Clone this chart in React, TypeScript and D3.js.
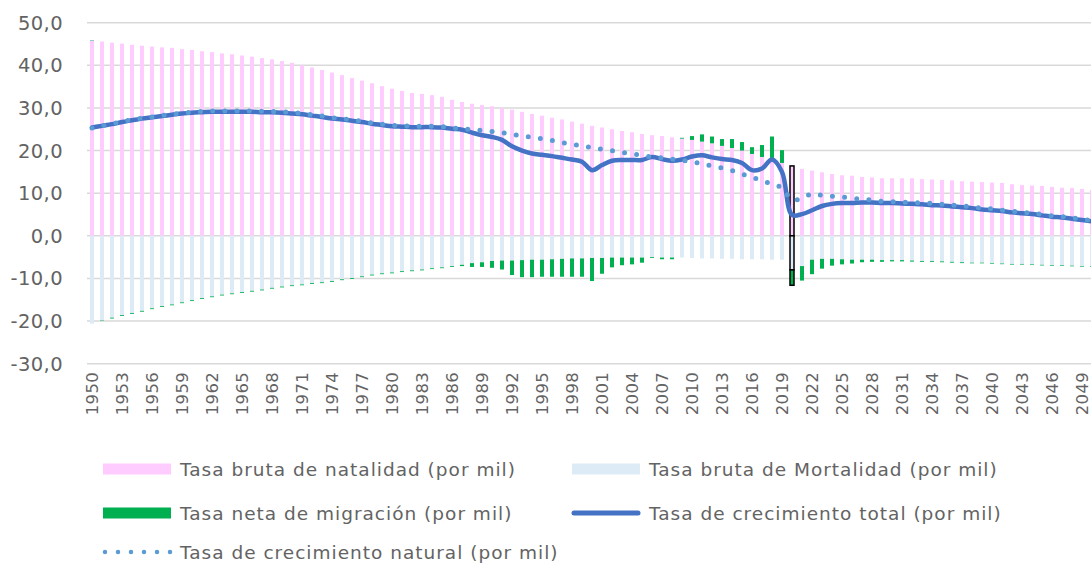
import React, { useEffect, useRef } from "react";
import * as d3 from "d3";

// años 1950-2050
const years = d3.range(1950, 2051);

const natalidad = [
  45.8, 45.6, 45.3, 45.1, 44.8, 44.6, 44.4, 44.2, 44.1, 43.8, 43.6, 43.3, 43.1, 42.8, 42.6, 42.3, 42.0, 41.7, 41.4, 41.0, 40.6,
  40.0, 39.5, 38.9, 38.3, 37.7, 37.0, 36.4, 35.8, 35.1, 34.5, 34.0, 33.5, 33.3, 33.0, 32.6, 31.9, 31.4, 31.0, 30.7, 30.4,
  30.0, 29.6, 29.1, 28.6, 28.2, 27.7, 27.3, 26.8, 26.3, 25.8, 25.4, 25.0, 24.6, 24.3, 23.9, 23.6, 23.4, 23.1, 22.8, 22.5,
  22.1, 21.7, 21.1, 20.6, 20.0, 19.2, 18.5, 18.2, 17.1, 16.4, 15.7, 15.3, 14.9, 14.5, 14.2, 14.1, 13.8, 13.7, 13.5, 13.5,
  13.5, 13.5, 13.3, 13.2, 13.1, 13.0, 12.8, 12.7, 12.6, 12.5, 12.4, 12.1, 11.9, 11.8, 11.7, 11.5, 11.3, 11.2, 11.0, 10.8,
];

// se dibuja en negativo
const mortalidad = [
  20.6, 19.8, 19.2, 18.6, 18.1, 17.6, 17.0, 16.5, 16.1, 15.6, 15.1, 14.6, 14.2, 13.8, 13.5, 13.2, 12.9, 12.6, 12.2, 11.9, 11.6,
  11.4, 11.1, 10.9, 10.6, 10.2, 9.9, 9.5, 9.1, 8.8, 8.6, 8.3, 8.1, 7.9, 7.6, 7.4, 7.1, 6.8, 6.4, 6.2, 5.9,
  5.8, 5.8, 5.7, 5.6, 5.6, 5.5, 5.4, 5.3, 5.3, 5.2, 5.2, 5.1, 5.1, 5.1, 5.1, 5.0, 5.1, 5.1, 5.1, 5.2,
  5.3, 5.3, 5.4, 5.4, 5.5, 5.5, 5.5, 5.6, 5.6, 8.0, 7.1, 5.6, 5.4, 5.4, 5.5, 5.6, 5.6, 5.6, 5.7, 5.7,
  5.7, 5.8, 5.9, 5.9, 6.0, 6.1, 6.2, 6.3, 6.3, 6.4, 6.5, 6.6, 6.6, 6.7, 6.8, 6.9, 6.9, 7.0, 7.1, 7.1,
];

const migracion = [
  0.1, -0.1, -0.2, -0.2, -0.2, -0.2, -0.2, -0.2, -0.2, -0.2, -0.2, -0.2, -0.2, -0.2, -0.2, -0.2, -0.2, -0.2, -0.2, -0.2, -0.2,
  -0.2, -0.2, -0.2, -0.2, -0.2, -0.2, -0.2, -0.2, -0.2, -0.2, -0.2, -0.2, -0.2, -0.2, -0.2, -0.2, -0.3, -0.9, -1.1, -1.6,
  -2.1, -3.4, -4.0, -4.1, -4.0, -4.1, -4.2, -4.3, -4.3, -5.4, -3.7, -2.3, -1.8, -1.6, -1.2, -0.2, -0.4, -0.4, 0.2, 0.9,
  1.7, 1.6, 1.6, 2.1, 2.0, 1.6, 2.8, 5.1, 3.0, -3.6, -3.4, -3.4, -2.3, -1.6, -1.2, -0.9, -0.6, -0.5, -0.4, -0.3,
  -0.3, -0.25, -0.2, -0.2, -0.2, -0.2, -0.2, -0.15, -0.15, -0.15, -0.15, -0.15, -0.15, -0.15, -0.15, -0.15, -0.15, -0.15, -0.15, -0.15,
];

const crecTotal = [
  25.4, 25.8, 26.2, 26.7, 27.1, 27.5, 27.8, 28.1, 28.4, 28.7, 28.9, 29.0, 29.1, 29.1, 29.1, 29.1, 29.1, 29.0, 29.0, 28.9, 28.7,
  28.5, 28.2, 27.9, 27.5, 27.3, 27.0, 26.7, 26.3, 26.0, 25.7, 25.6, 25.5, 25.5, 25.5, 25.4, 25.1, 24.9, 24.2, 23.6, 23.2,
  22.5, 21.0, 20.0, 19.3, 19.0, 18.7, 18.3, 17.9, 17.4, 15.4, 16.6, 17.6, 17.8, 17.8, 17.8, 18.5, 18.0, 17.6, 17.9, 18.6,
  18.9, 18.4, 18.0, 17.8, 17.1, 15.4, 15.8, 17.9, 15.0, 4.9, 5.1, 6.0, 7.0, 7.5, 7.7, 7.7, 7.8, 7.8, 7.7, 7.7,
  7.6, 7.5, 7.4, 7.2, 7.1, 6.9, 6.7, 6.5, 6.2, 6.0, 5.8, 5.5, 5.3, 5.1, 4.8, 4.5, 4.3, 4.0, 3.7, 3.4,
];

const crecNatural = [
  25.3, 25.8, 26.3, 26.8, 27.2, 27.6, 27.9, 28.2, 28.5, 28.8, 29.0, 29.2, 29.3, 29.3, 29.3, 29.3, 29.3, 29.2, 29.2, 29.1, 28.9,
  28.7, 28.4, 28.1, 27.7, 27.5, 27.2, 26.9, 26.5, 26.2, 25.9, 25.8, 25.7, 25.7, 25.7, 25.6, 25.3, 25.1, 24.9, 24.7, 24.5,
  24.2, 23.8, 23.5, 23.1, 22.8, 22.4, 21.9, 21.5, 21.1, 20.7, 20.3, 20.0, 19.6, 19.2, 18.9, 18.5, 18.3, 18.0, 17.7, 17.4,
  16.9, 16.4, 15.9, 15.3, 14.5, 13.7, 13.0, 12.1, 11.3, 8.5, 8.8, 9.9, 9.5, 9.3, 9.1, 8.8, 8.6, 8.4, 8.1, 8.0,
  7.9, 7.8, 7.7, 7.6, 7.4, 7.2, 7.0, 6.8, 6.5, 6.3, 6.0, 5.8, 5.5, 5.3, 5.0, 4.7, 4.5, 4.2, 3.9, 3.6,
];

const yTicks = [-30, -20, -10, 0, 10, 20, 30, 40, 50];
const labelYears = years.filter(y => (y - 1950) % 3 === 0);
const selectedYear = 2020;

const series = [
  { name: "Tasa bruta de natalidad (por mil)", type: "rect", color: "#FFCCFF" },
  { name: "Tasa bruta de Mortalidad (por mil)", type: "rect", color: "#DDEBF7" },
  { name: "Tasa neta de migración (por mil)", type: "rect", color: "#00B050" },
  { name: "Tasa de crecimiento total (por mil)", type: "line", color: "#4472C4" },
  { name: "Tasa de crecimiento natural (por mil)", type: "dots", color: "#5B9BD5" },
];

const W = 1091;
const H = 566;
const FONT = "'DejaVu Sans', sans-serif";
const TEXT = "#636363";

const fmt = (v: number) => d3.format(".1f")(v).replace(".", ",").replace("−", "-");

export default function App() {
  const svgRef = useRef<SVGSVGElement>(null);

  useEffect(() => {
    if (!svgRef.current) return;
    const svg = d3.select(svgRef.current);
    svg.selectAll("*").remove();

    const plot = { left: 87, right: 1097, top: 22.7, bottom: 363.7 };

    const x = d3.scaleBand<number>()
      .domain(years)
      .range([plot.left, plot.right])
      .paddingInner(0.6)
      .paddingOuter(0.3);
    const y = d3.scaleLinear().domain([-30, 50]).range([plot.bottom, plot.top]);
    const bw = x.bandwidth();

    // grid
    svg.append("g").selectAll("line").data(yTicks).join("line")
      .attr("x1", plot.left).attr("x2", W)
      .attr("y1", d => y(d)).attr("y2", d => y(d))
      .attr("stroke", "#D9D9D9").attr("stroke-width", 1.5);

    svg.append("g").selectAll("text").data(yTicks).join("text")
      .attr("x", 63).attr("y", d => y(d))
      .attr("dy", "0.36em")
      .attr("text-anchor", "end")
      .attr("font-family", FONT).attr("font-size", 19.5).attr("letter-spacing", 0.4).attr("fill", TEXT)
      .text(d => fmt(d));

    // stacked bars
    const rows = years.map((yr, i) => {
      const b = natalidad[i];
      const d = -mortalidad[i];
      const m = migracion[i];
      return {
        yr,
        segs: [
          { y0: 0, y1: b, color: series[0].color },
          { y0: 0, y1: d, color: series[1].color },
          m >= 0 ? { y0: b, y1: b + m, color: series[2].color } : { y0: d, y1: d + m, color: series[2].color },
        ],
      };
    });

    const gBars = svg.append("g");
    rows.forEach(r => {
      r.segs.forEach(s => {
        const sel = r.yr === selectedYear;
        gBars.append("rect")
          .attr("x", x(r.yr)!)
          .attr("width", bw)
          .attr("y", y(Math.max(s.y0, s.y1)))
          .attr("height", Math.abs(y(s.y0) - y(s.y1)))
          .attr("fill", s.color)
          .attr("stroke", sel ? "#000" : "none")
          .attr("stroke-width", sel ? 1.5 : 0);
      });
    });

    const cx = (yr: number) => x(yr)! + bw / 2;
    const line = d3.line<number>()
      .x((_, i) => cx(years[i]))
      .y(d => y(d))
      .curve(d3.curveCatmullRom.alpha(0.5));

    svg.append("path").datum(crecTotal)
      .attr("d", line)
      .attr("fill", "none")
      .attr("stroke", series[3].color)
      .attr("stroke-width", 4.5)
      .attr("stroke-linejoin", "round")
      .attr("stroke-linecap", "round");

    svg.append("path").datum(crecNatural)
      .attr("d", line)
      .attr("fill", "none")
      .attr("stroke", series[4].color)
      .attr("stroke-width", 5)
      .attr("stroke-dasharray", "0 12.2")
      .attr("stroke-linecap", "round");

    // x labels
    svg.append("g").selectAll("text").data(labelYears).join("text")
      .attr("transform", d => `translate(${cx(d)},372) rotate(-90)`)
      .attr("dy", "0.36em")
      .attr("text-anchor", "end")
      .attr("font-family", FONT).attr("font-size", 16.5).attr("letter-spacing", 0.3).attr("fill", TEXT)
      .text(d => String(d));

    // legend
    const legendPos = [
      { x: 103, y: 469 },
      { x: 572, y: 469 },
      { x: 103, y: 513 },
      { x: 572, y: 513 },
      { x: 103, y: 552 },
    ];
    series.forEach((s, i) => {
      const p = legendPos[i];
      const g = svg.append("g");
      if (s.type === "rect") {
        g.append("rect").attr("x", p.x).attr("y", p.y - 5.5).attr("width", 68).attr("height", 11).attr("fill", s.color);
      } else if (s.type === "line") {
        g.append("line").attr("x1", p.x + 2).attr("x2", p.x + 66).attr("y1", p.y).attr("y2", p.y)
          .attr("stroke", s.color).attr("stroke-width", 5).attr("stroke-linecap", "round");
      } else {
        g.append("line").attr("x1", p.x + 2).attr("x2", p.x + 68).attr("y1", p.y).attr("y2", p.y)
          .attr("stroke", s.color).attr("stroke-width", 4.5)
          .attr("stroke-dasharray", "0 13").attr("stroke-linecap", "round");
      }
      g.append("text")
        .attr("x", p.x + 77).attr("y", p.y).attr("dy", "0.36em")
        .attr("font-family", FONT).attr("font-size", 18.5).attr("letter-spacing", 1)
        .attr("fill", TEXT)
        .text(s.name);
    });
  }, []);

  return (
    <svg
      ref={svgRef}
      width={W}
      height={H}
      style={{ position: "absolute", left: 0, top: 0, background: "#fff" }}
    />
  );
}
